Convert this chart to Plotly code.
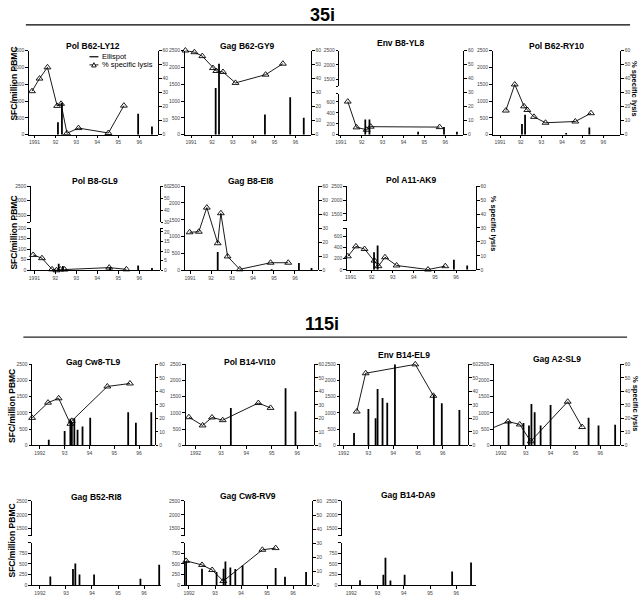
import plotly.graph_objects as go

W, H = 640, 601

# ================= DATA =================
# ---- 35i ----
# Pol B62-LY12
ly12_lysis_year = [1990.88, 1991.24, 1991.62, 1992.08, 1992.27, 1992.55, 1993.10, 1994.53, 1995.27]
ly12_lysis_pct = [31, 40, 48, 20.5, 22, 1, 4.7, 1.2, 20.7]
ly12_spot_year = [1992.12, 1992.31, 1995.95, 1996.61]
ly12_spot_sfc = [370, 950, 620, 245]

# Gag B62-GY9
gy9_lysis_year = [1990.73, 1991.16, 1991.54, 1992.05, 1992.21, 1992.53, 1993.13, 1994.57, 1995.40]
gy9_lysis_pct = [60, 58.8, 56, 47.5, 45.4, 44.7, 36.9, 42.8, 50.6]
gy9_spot_year = [1992.18, 1992.34, 1994.54, 1995.75, 1996.40]
gy9_spot_sfc = [1390, 2110, 600, 1110, 500]

# Env B8-YL8
yl8_lysis_year = [1991.33, 1991.75, 1992.24, 1992.43, 1995.73]
yl8_lysis_pct = [23.6, 5.2, 3.5, 5.7, 5.4]
yl8_spot_year = [1992.17, 1992.37, 1994.70, 1995.94, 1996.56]
yl8_spot_sfc = [277, 277, 52, 142, 52]

# Pol B62-RY10
ry10_lysis_year = [1991.28, 1991.71, 1992.16, 1992.32, 1992.64, 1993.20, 1994.64, 1995.40]
ry10_lysis_pct = [17.2, 35.8, 20.2, 17.6, 12.7, 8.5, 9.4, 15.3]
ry10_spot_year = [1992.06, 1992.21, 1994.20, 1995.32]
ry10_spot_sfc = [314, 590, 50, 215]

# Pol B8-GL9
gl9_lysis_year = [1990.94, 1991.36, 1991.84, 1992.05, 1992.24, 1992.44, 1994.57, 1995.39]
gl9_lysis_pct = [8.0, 6.3, 0.5, 0.0, 0.4, 0.4, 1.4, 0.5]
gl9_spot_year = [1992.16, 1992.36, 1994.61, 1995.95, 1996.61]
gl9_spot_sfc = [31, 20, 15, 23, 11]

# Gag B8-EI8
ei8_lysis_year = [1990.98, 1991.42, 1991.80, 1992.32, 1992.47, 1992.79, 1993.37, 1994.84, 1995.68]
ei8_lysis_pct = [27.1, 27.5, 44.7, 19.3, 40.7, 9.9, 0.7, 5.4, 5.4]
ei8_spot_year = [1992.32, 1994.89, 1996.19, 1996.79]
ei8_spot_sfc = [540, 30, 215, 70]

# Pol A11-AK9
ak9_lysis_year = [1990.87, 1991.25, 1991.66, 1992.13, 1992.32, 1992.63, 1993.18, 1994.67, 1995.49]
ak9_lysis_pct = [9.7, 16.8, 14.9, 6.6, 2.6, 9.0, 3.1, 0.2, 2.6]
ak9_spot_year = [1992.11, 1992.28, 1995.90, 1996.53]
ak9_spot_sfc = [315, 435, 179, 77]

# ---- 115i ----
# Gag Cw8-TL9
tl9_lysis_year = [1991.69, 1992.33, 1992.76, 1993.23, 1993.29, 1994.72, 1995.63]
tl9_lysis_pct = [20.3, 31.6, 34.8, 15.9, 18.1, 43.6, 45.8]
tl9_spot_year = [1992.36, 1993.00, 1993.23, 1993.29, 1993.39, 1993.52, 1993.72, 1994.03, 1995.56, 1995.87, 1996.49]
tl9_spot_sfc = [173, 439, 816, 700, 837, 480, 582, 847, 1020, 694, 1020]

# Pol B14-VI10
vi10_lysis_year = [1991.74, 1992.28, 1992.65, 1993.07, 1994.47, 1994.95]
vi10_lysis_pct = [20.8, 14.7, 20.6, 18.6, 31.3, 27.7]
vi10_spot_year = [1993.39, 1995.54, 1995.93]
vi10_spot_sfc = [1153, 1765, 1041]

# Env B14-EL9
el9_lysis_year = [1992.53, 1992.89, 1994.89, 1995.62]
el9_lysis_pct = [25.0, 53.4, 60.0, 36.7]
el9_spot_year = [1992.42, 1993.00, 1993.29, 1993.37, 1993.57, 1993.76, 1994.07, 1995.64, 1995.96, 1996.67]
el9_spot_sfc = [380, 1122, 837, 1735, 1459, 1316, 2500, 1571, 1296, 1092]

# Gag A2-SL9
sl9_lysis_year = [1991.69, 1992.29, 1992.76, 1993.20, 1994.69, 1995.27]
sl9_lysis_pct = [13.0, 17.6, 15.4, 2.9, 32.3, 13.5]
sl9_spot_year = [1992.31, 1992.91, 1993.13, 1993.23, 1993.36, 1993.60, 1994.00, 1995.53, 1995.93, 1996.60]
sl9_spot_sfc = [745, 684, 612, 1276, 1020, 612, 1245, 847, 612, 633]

# Gag B52-RI8
ri8_spot_year = [1992.40, 1993.27, 1993.36, 1993.52, 1994.08, 1995.86, 1996.58]
ri8_spot_sfc = [205, 379, 508, 250, 250, 152, 477]

# Gag Cw8-RV9
rv9_lysis_year = [1991.89, 1992.50, 1992.89, 1993.32, 1994.82, 1995.33]
rv9_lysis_pct = [17.3, 14.4, 10.8, 2.9, 25.2, 26.4]
rv9_spot_year = [1991.89, 1992.50, 1993.06, 1993.33, 1993.40, 1993.59, 1993.78, 1994.06, 1995.33, 1995.69, 1996.50]
rv9_spot_sfc = [568, 386, 310, 386, 553, 417, 379, 462, 402, 197, 310]

# Gag B14-DA9
da9_spot_year = [1992.33, 1993.22, 1993.30, 1993.49, 1994.03, 1995.84, 1996.56]
da9_spot_sfc = [114, 242, 644, 106, 242, 318, 530]

# tick labels
x_ticks_91 = [1991, 1992, 1993, 1994, 1995, 1996]
x_text_91 = ['1991', '92', '93', '94', '95', '96']
x_ticks_92 = [1992, 1993, 1994, 1995, 1996]
x_text_92 = ['1992', '93', '94', '95', '96']

# ================= STYLE / LAYOUT HELPERS =================
FONT = "Liberation Sans, Arial, sans-serif"
TICKFONT = dict(family=FONT, size=5, color='#444')

def fx(px):
    return px / W

def fy(py):
    return 1 - py / H

AX = dict(showline=True, linecolor='black', linewidth=1, ticks='outside', ticklen=2.5,
          tickwidth=1, tickcolor='black', showgrid=False, zeroline=False,
          tickfont=TICKFONT, fixedrange=True, tickmode='array')

def seg(top, bot, rng, vals, text=None):
    if text is None:
        text = [str(v) for v in vals]
    return dict(top=top, bot=bot, range=rng, vals=vals, text=text)

def full_left(top, bot):
    return [seg(top, bot, [0, 2500], [0, 500, 1000, 1500, 2000, 2500])]

def full_right(top, bot):
    return [seg(top, bot, [0, 60], [0, 10, 20, 30, 40, 50, 60])]

def upper_seg(top, bot):
    return seg(top, bot, [1250, 2500], [1250, 1500, 2000, 2500], ['', '1500', '2000', '2500'])

fig = go.Figure()
layout_axes = {}
count = {'x': 0, 'y': 0}

def new_axis(kind):
    count[kind] += 1
    n = count[kind]
    return (f'{kind}axis' if n == 1 else f'{kind}axis{n}'), (kind if n == 1 else f'{kind}{n}')

def add_panel(p):
    xname, xref = new_axis('x')
    left_refs = []
    for s in p['left']:
        yname, yref = new_axis('y')
        layout_axes[yname] = dict(AX, domain=[fy(s['bot']), fy(s['top'])], anchor=xref, side='left',
                                  range=s['range'], tickvals=s['vals'], ticktext=s['text'])
        left_refs.append(yref)
    right_refs = []
    for s in p.get('right', []):
        yname, yref = new_axis('y')
        layout_axes[yname] = dict(AX, domain=[fy(s['bot']), fy(s['top'])], anchor=xref, side='right',
                                  range=s['range'], tickvals=s['vals'], ticktext=s['text'])
        right_refs.append(yref)
    layout_axes[xname] = dict(AX, domain=[fx(p['L']), fx(p['R'])], anchor=left_refs[0],
                              range=p['xr'], tickvals=p['xvals'], ticktext=p['xtext'])
    bw = 1.8 * (p['xr'][1] - p['xr'][0]) / (p['R'] - p['L'])
    fig.add_trace(go.Bar(x=p['spot_x'], y=p['spot_y'], width=bw,
                         marker=dict(color='black', line=dict(width=0)),
                         xaxis=xref, yaxis=left_refs[0], showlegend=False, name='Ellispot'))
    for r in left_refs[1:]:
        fig.add_trace(go.Scatter(x=[], y=[], xaxis=xref, yaxis=r, showlegend=False))
    if right_refs:
        if p.get('lys_x') is not None:
            fig.add_trace(go.Scatter(x=p['lys_x'], y=p['lys_y'], mode='lines+markers',
                                     line=dict(color='black', width=0.9),
                                     marker=dict(symbol='triangle-up-open', size=6, color='black',
                                                 line=dict(width=0.9)),
                                     cliponaxis=False,
                                     xaxis=xref, yaxis=right_refs[0], showlegend=False,
                                     name='% specific lysis'))
        for r in right_refs[1:]:
            fig.add_trace(go.Scatter(x=[], y=[], xaxis=xref, yaxis=r, showlegend=False))

panels = [
    # ---------- 35i row 1 ----------
    dict(title='Pol B62-LY12', ty=43.3, L=25, R=155, xr=[1990.73, 1996.9], xvals=x_ticks_91, xtext=x_text_91,
         left=full_left(48, 133), right=full_right(48, 133),
         spot_x=ly12_spot_year, spot_y=ly12_spot_sfc, lys_x=ly12_lysis_year, lys_y=ly12_lysis_pct),
    dict(title='Gag B62-GY9', ty=43.3, L=181.7, R=309, xr=[1990.69, 1996.75], xvals=x_ticks_91, xtext=x_text_91,
         left=full_left(48, 133), right=full_right(48, 133),
         spot_x=gy9_spot_year, spot_y=gy9_spot_sfc, lys_x=gy9_lysis_year, lys_y=gy9_lysis_pct),
    dict(title='Env B8-YL8', ty=40.5, L=337.5, R=462.3, xr=[1990.93, 1996.87], xvals=x_ticks_91, xtext=x_text_91,
         left=[seg(91.7, 133, [0, 750], [0, 200, 400, 600, 750], ['0', '200', '400', '600', '']),
               upper_seg(48, 84.3)],
         right=full_right(48, 133),
         spot_x=yl8_spot_year, spot_y=yl8_spot_sfc, lys_x=yl8_lysis_year, lys_y=yl8_lysis_pct),
    dict(title='Pol B62-RY10', ty=43.3, L=491.7, R=620, xr=[1990.64, 1996.81], xvals=x_ticks_91, xtext=x_text_91,
         left=full_left(48, 133), right=full_right(48, 133),
         spot_x=ry10_spot_year, spot_y=ry10_spot_sfc, lys_x=ry10_lysis_year, lys_y=ry10_lysis_pct),
    # ---------- 35i row 2 ----------
    dict(title='Pol B8-GL9', ty=179.3, L=27, R=156.5, xr=[1990.83, 1996.97], xvals=x_ticks_91, xtext=x_text_91,
         left=[seg(227.3, 270, [0, 200], [0, 50, 100, 150, 200]), upper_seg(185, 221.5)],
         right=[seg(227.3, 270, [0, 22], [0, 5, 10, 15, 20, 22], ['0', '5', '10', '15', '20', '']),
                seg(185, 221.5, [30, 60], [30, 40, 50, 60])],
         spot_x=gl9_spot_year, spot_y=gl9_spot_sfc, lys_x=gl9_lysis_year, lys_y=gl9_lysis_pct),
    dict(title='Gag B8-EI8', ty=179.3, L=181.7, R=316, xr=[1990.74, 1997.1], xvals=x_ticks_91, xtext=x_text_91,
         left=full_left(185, 270), right=full_right(185, 270),
         spot_x=ei8_spot_year, spot_y=ei8_spot_sfc, lys_x=ei8_lysis_year, lys_y=ei8_lysis_pct),
    dict(title='Pol A11-AK9', ty=178.3, L=345, R=475, xr=[1990.82, 1996.95], xvals=x_ticks_91, xtext=x_text_91,
         left=[seg(227.3, 269.5, [0, 750], [0, 200, 400, 600, 750], ['0', '200', '400', '600', '']),
               upper_seg(185, 220)],
         right=full_right(185, 269.5),
         spot_x=ak9_spot_year, spot_y=ak9_spot_sfc, lys_x=ak9_lysis_year, lys_y=ak9_lysis_pct),
    # ---------- 115i row 3 ----------
    dict(title='Gag Cw8-TL9', ty=363, L=28.3, R=151.7, xr=[1991.69, 1996.63], xvals=x_ticks_92, xtext=x_text_92,
         left=full_left(365, 446.7), right=full_right(365, 446.7),
         spot_x=tl9_spot_year, spot_y=tl9_spot_sfc, lys_x=tl9_lysis_year, lys_y=tl9_lysis_pct),
    dict(title='Pol B14-VI10', ty=363, L=182.7, R=312, xr=[1991.61, 1996.66], xvals=x_ticks_92, xtext=x_text_92,
         left=full_left(365, 446.7), right=full_right(365, 446.7),
         spot_x=vi10_spot_year, spot_y=vi10_spot_sfc, lys_x=vi10_lysis_year, lys_y=vi10_lysis_pct),
    dict(title='Env B14-EL9', ty=356, L=338.5, R=467, xr=[1991.87, 1997.02], xvals=x_ticks_92, xtext=x_text_92,
         left=full_left(365, 446.7), right=full_right(365, 446.7),
         spot_x=el9_spot_year, spot_y=el9_spot_sfc, lys_x=el9_lysis_year, lys_y=el9_lysis_pct),
    dict(title='Gag A2-SL9', ty=359.5, L=493, R=620, xr=[1991.72, 1996.8], xvals=x_ticks_92, xtext=x_text_92,
         left=full_left(365, 446.7), right=full_right(365, 446.7),
         spot_x=sl9_spot_year, spot_y=sl9_spot_sfc, lys_x=sl9_lysis_year, lys_y=sl9_lysis_pct),
    # ---------- 115i row 4 ----------
    dict(title='Gag B52-RI8', ty=499.3, L=28, R=158, xr=[1991.69, 1996.65], xvals=x_ticks_92, xtext=x_text_92,
         left=[seg(545, 588, [0, 1000], [0, 250, 500, 750, 1000], ['0', '250', '500', '750', '']),
               upper_seg(503, 538)],
         spot_x=ri8_spot_year, spot_y=ri8_spot_sfc),
    dict(title='Gag Cw8-RV9', ty=498.3, L=181.7, R=310, xr=[1991.83, 1996.73], xvals=x_ticks_92, xtext=x_text_92,
         left=[seg(545, 588, [0, 1000], [0, 250, 500, 750, 1000], ['0', '250', '500', '750', '']),
               upper_seg(503, 538)],
         right=full_right(503, 588),
         spot_x=rv9_spot_year, spot_y=rv9_spot_sfc, lys_x=rv9_lysis_year, lys_y=rv9_lysis_pct),
    dict(title='Gag B14-DA9', ty=497.3, L=340, R=475, xr=[1991.64, 1996.75], xvals=x_ticks_92, xtext=x_text_92,
         left=[seg(545, 588, [0, 1000], [0, 250, 500, 750, 1000], ['0', '250', '500', '750', '']),
               upper_seg(503, 538)],
         spot_x=da9_spot_year, spot_y=da9_spot_sfc),
]

annotations = []
for p in panels:
    add_panel(p)
    annotations.append(dict(text=f"<b>{p['title']}</b>", x=fx((p['L'] + p['R']) / 2), y=fy(p['ty']),
                            xref='paper', yref='paper', xanchor='center', yanchor='middle',
                            showarrow=False, font=dict(family=FONT, size=8.5, color='black')))

# group headers
for txt, yy in [('35i', 12), ('115i', 324)]:
    annotations.append(dict(text=f"<b>{txt}</b>", x=0.5, y=fy(yy), xref='paper', yref='paper',
                            xanchor='center', yanchor='middle', showarrow=False,
                            font=dict(family=FONT, size=18, color='black')))

# axis titles
for yy, xx in [(81.5, 10), (232, 10), (406.5, 8.5), (542.5, 8.5)]:
    annotations.append(dict(text="<b>SFC/million PBMC</b>", x=fx(xx), y=fy(yy), xref='paper', yref='paper',
                            xanchor='center', yanchor='middle', textangle=-90, showarrow=False,
                            font=dict(family=FONT, size=8.5, color='black')))
for yy, xx in [(86, 635), (223, 492), (404, 635)]:
    annotations.append(dict(text="<b>% specific lysis</b>", x=fx(xx), y=fy(yy), xref='paper', yref='paper',
                            xanchor='center', yanchor='middle', textangle=90, showarrow=False,
                            font=dict(family=FONT, size=7.5, color='black')))

# manual legend (in first panel)
annotations.append(dict(text="Ellispot", x=fx(97), y=fy(54.3), xref='paper', yref='paper',
                        xanchor='left', yanchor='middle', showarrow=False,
                        font=dict(family=FONT, size=7.5, color='black')))
annotations.append(dict(text="% specific lysis", x=fx(97), y=fy(62.5), xref='paper', yref='paper',
                        xanchor='left', yanchor='middle', showarrow=False,
                        font=dict(family=FONT, size=7.5, color='black')))

shapes = [
    dict(type='line', xref='paper', yref='paper', x0=fx(22), x1=fx(630), y0=fy(22), y1=fy(22),
         line=dict(color='black', width=1.3)),
    dict(type='line', xref='paper', yref='paper', x0=fx(19.5), x1=fx(627), y0=fy(337.5), y1=fy(337.5),
         line=dict(color='#222', width=1.3)),
    dict(type='line', xref='paper', yref='paper', x0=fx(86), x1=fx(95), y0=fy(54.3), y1=fy(54.3),
         line=dict(color='black', width=1.2)),
    dict(type='line', xref='paper', yref='paper', x0=fx(86), x1=fx(95), y0=fy(62.5), y1=fy(62.5),
         line=dict(color='black', width=0.9)),
    dict(type='path', xref='paper', yref='paper',
         path=f"M {fx(88.2)},{fy(64.6)} L {fx(92.8)},{fy(64.6)} L {fx(90.5)},{fy(60.3)} Z",
         line=dict(color='black', width=0.9), fillcolor='white'),
]

fig.update_layout(
    width=W, height=H, autosize=False,
    margin=dict(l=0, r=0, t=0, b=0),
    paper_bgcolor='white', plot_bgcolor='rgba(0,0,0,0)',
    font=dict(family=FONT, color='black'),
    showlegend=False,
    barmode='overlay',
    annotations=annotations,
    shapes=shapes,
    **layout_axes,
)

fig.write_html("out.html",
               config={'displayModeBar': False, 'staticPlot': True},
               post_script="document.body.style.margin='0';document.body.style.overflow='hidden';")
